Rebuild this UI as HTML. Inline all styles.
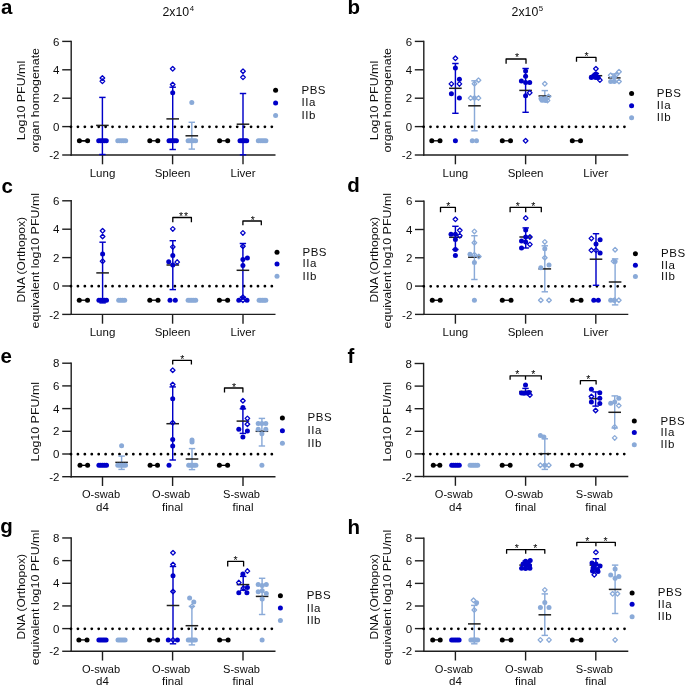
<!DOCTYPE html>
<html><head><meta charset="utf-8"><style>
html,body{margin:0;padding:0;background:#fff;}
svg{display:block;font-family:"Liberation Sans", sans-serif;will-change:transform;-webkit-font-smoothing:antialiased;}
text{fill:#0d0d0d;}
</style></head><body>
<svg width="685" height="686" viewBox="0 0 685 686">
<rect width="685" height="686" fill="#fff"/>
<text x="1.0" y="14.0" font-size="20.5" font-weight="bold" fill="#000" style="fill:#000">a</text>
<text x="347.4" y="13.9" font-size="20.5" font-weight="bold" fill="#000" style="fill:#000">b</text>
<text x="1.5" y="193" font-size="20.5" font-weight="bold" fill="#000" style="fill:#000">c</text>
<text x="347.2" y="192.1" font-size="20.5" font-weight="bold" fill="#000" style="fill:#000">d</text>
<text x="0.5" y="363" font-size="20.5" font-weight="bold" fill="#000" style="fill:#000">e</text>
<text x="347.4" y="362.8" font-size="20.5" font-weight="bold" fill="#000" style="fill:#000">f</text>
<text x="0.3" y="533.4" font-size="20.5" font-weight="bold" fill="#000" style="fill:#000">g</text>
<text x="347.4" y="534" font-size="20.5" font-weight="bold" fill="#000" style="fill:#000">h</text>
<text transform="translate(162.4,16) scale(1.0,1)" font-size="12.3" text-anchor="start" font-weight="normal">2x10<tspan dx="0.6" dy="-5.4" font-size="7.8">4</tspan></text>
<text transform="translate(511.6,16) scale(1.0,1)" font-size="12.3" text-anchor="start" font-weight="normal">2x10<tspan dx="0.6" dy="-5.4" font-size="7.8">5</tspan></text>
<line x1="71.2" y1="40.7" x2="71.2" y2="155.7" stroke="#1e1e1e" stroke-width="1.4"/>
<line x1="62.2" y1="41.4" x2="71.2" y2="41.4" stroke="#1e1e1e" stroke-width="1.4"/>
<text transform="translate(59.5,45.5) scale(1.0,1)" font-size="11.5" text-anchor="end" font-weight="normal">6</text>
<line x1="62.2" y1="69.8" x2="71.2" y2="69.8" stroke="#1e1e1e" stroke-width="1.4"/>
<text transform="translate(59.5,73.9) scale(1.0,1)" font-size="11.5" text-anchor="end" font-weight="normal">4</text>
<line x1="62.2" y1="98.2" x2="71.2" y2="98.2" stroke="#1e1e1e" stroke-width="1.4"/>
<text transform="translate(59.5,102.3) scale(1.0,1)" font-size="11.5" text-anchor="end" font-weight="normal">2</text>
<line x1="62.2" y1="126.6" x2="71.2" y2="126.6" stroke="#1e1e1e" stroke-width="1.4"/>
<text transform="translate(59.5,130.7) scale(1.0,1)" font-size="11.5" text-anchor="end" font-weight="normal">0</text>
<line x1="62.2" y1="155" x2="71.2" y2="155" stroke="#1e1e1e" stroke-width="1.4"/>
<text transform="translate(59.5,159.1) scale(1.0,1)" font-size="11.5" text-anchor="end" font-weight="normal">-2</text>
<line x1="70.5" y1="155" x2="275.5" y2="155" stroke="#1e1e1e" stroke-width="1.4"/>
<line x1="102.5" y1="155" x2="102.5" y2="164.3" stroke="#1e1e1e" stroke-width="1.4"/>
<text transform="translate(102.5,176.5) scale(1.0,1)" font-size="11.5" text-anchor="middle" font-weight="normal">Lung</text>
<line x1="172.6" y1="155" x2="172.6" y2="164.3" stroke="#1e1e1e" stroke-width="1.4"/>
<text transform="translate(172.6,176.5) scale(1.0,1)" font-size="11.5" text-anchor="middle" font-weight="normal">Spleen</text>
<line x1="243" y1="155" x2="243" y2="164.3" stroke="#1e1e1e" stroke-width="1.4"/>
<text transform="translate(243,176.5) scale(1.0,1)" font-size="11.5" text-anchor="middle" font-weight="normal">Liver</text>
<line x1="71" y1="126.8" x2="272.12" y2="126.8" stroke="#000" stroke-width="2.8" stroke-linecap="round" stroke-dasharray="0 6.925"/>
<text transform="translate(25.2,100.5) rotate(-90) scale(1.083,1)" font-size="11.5" text-anchor="middle">Log10 PFU/ml</text>
<text transform="translate(38.8,100.2) rotate(-90) scale(1.083,1)" font-size="11.5" text-anchor="middle">organ homogenate</text>
<line x1="79.4" y1="140.8" x2="87.6" y2="140.8" stroke="#1e1e1e" stroke-width="1.5"/>
<line x1="102.4" y1="97.4" x2="102.4" y2="154.5" stroke="#0000c8" stroke-width="1.45"/>
<line x1="99.2" y1="97.4" x2="105.6" y2="97.4" stroke="#0000c8" stroke-width="1.45"/>
<line x1="99.2" y1="154.5" x2="105.6" y2="154.5" stroke="#0000c8" stroke-width="1.45"/>
<line x1="96.1" y1="125.4" x2="108.7" y2="125.4" stroke="#1e1e1e" stroke-width="1.5"/>
<circle cx="98.7" cy="140.8" r="2.5" fill="#0000c8"/>
<circle cx="100.6" cy="140.8" r="2.5" fill="#0000c8"/>
<circle cx="102.5" cy="140.8" r="2.5" fill="#0000c8"/>
<circle cx="104.4" cy="140.8" r="2.5" fill="#0000c8"/>
<circle cx="106.3" cy="140.8" r="2.5" fill="#0000c8"/>
<path d="M102.4 75.7L104.7 78L102.4 80.3L100.1 78Z" fill="none" stroke="#0000c8" stroke-width="1.3" stroke-linejoin="round"/>
<path d="M102.4 79L104.7 81.3L102.4 83.6L100.1 81.3Z" fill="none" stroke="#0000c8" stroke-width="1.3" stroke-linejoin="round"/>
<circle cx="117.8" cy="140.8" r="2.5" fill="#8aaad8"/>
<circle cx="119.77" cy="140.8" r="2.5" fill="#8aaad8"/>
<circle cx="121.75" cy="140.8" r="2.5" fill="#8aaad8"/>
<circle cx="123.72" cy="140.8" r="2.5" fill="#8aaad8"/>
<circle cx="125.7" cy="140.8" r="2.5" fill="#8aaad8"/>
<line x1="79.4" y1="140.8" x2="87.6" y2="140.8" stroke="#000000" stroke-width="1.3"/>
<circle cx="79.4" cy="140.8" r="2.5" fill="#000000"/>
<circle cx="87.6" cy="140.8" r="2.5" fill="#000000"/>
<line x1="172.7" y1="87.2" x2="172.7" y2="149.5" stroke="#0000c8" stroke-width="1.45"/>
<line x1="169.5" y1="87.2" x2="175.9" y2="87.2" stroke="#0000c8" stroke-width="1.45"/>
<line x1="169.5" y1="149.5" x2="175.9" y2="149.5" stroke="#0000c8" stroke-width="1.45"/>
<line x1="166.4" y1="118.9" x2="179" y2="118.9" stroke="#1e1e1e" stroke-width="1.5"/>
<circle cx="169" cy="140.8" r="2.5" fill="#0000c8"/>
<circle cx="170.85" cy="140.8" r="2.5" fill="#0000c8"/>
<circle cx="172.7" cy="140.8" r="2.5" fill="#0000c8"/>
<circle cx="174.55" cy="140.8" r="2.5" fill="#0000c8"/>
<circle cx="176.4" cy="140.8" r="2.5" fill="#0000c8"/>
<path d="M172.7 66.5L175 68.8L172.7 71.1L170.4 68.8Z" fill="none" stroke="#0000c8" stroke-width="1.3" stroke-linejoin="round"/>
<path d="M172.7 82.2L175 84.5L172.7 86.8L170.4 84.5Z" fill="none" stroke="#0000c8" stroke-width="1.3" stroke-linejoin="round"/>
<circle cx="172.7" cy="92.7" r="2.5" fill="#0000c8"/>
<line x1="191.8" y1="122.3" x2="191.8" y2="149.1" stroke="#8aaad8" stroke-width="1.45"/>
<line x1="188.6" y1="122.3" x2="195" y2="122.3" stroke="#8aaad8" stroke-width="1.45"/>
<line x1="188.6" y1="149.1" x2="195" y2="149.1" stroke="#8aaad8" stroke-width="1.45"/>
<line x1="185.5" y1="135.8" x2="198.1" y2="135.8" stroke="#1e1e1e" stroke-width="1.5"/>
<circle cx="188.1" cy="140.8" r="2.5" fill="#8aaad8"/>
<circle cx="189.97" cy="140.8" r="2.5" fill="#8aaad8"/>
<circle cx="191.85" cy="140.8" r="2.5" fill="#8aaad8"/>
<circle cx="193.72" cy="140.8" r="2.5" fill="#8aaad8"/>
<circle cx="195.6" cy="140.8" r="2.5" fill="#8aaad8"/>
<circle cx="191.8" cy="102.5" r="2.5" fill="#8aaad8"/>
<line x1="149.8" y1="140.8" x2="157.8" y2="140.8" stroke="#000000" stroke-width="1.3"/>
<circle cx="149.8" cy="140.8" r="2.5" fill="#000000"/>
<circle cx="157.8" cy="140.8" r="2.5" fill="#000000"/>
<line x1="243" y1="93.5" x2="243" y2="154.8" stroke="#0000c8" stroke-width="1.45"/>
<line x1="239.8" y1="93.5" x2="246.2" y2="93.5" stroke="#0000c8" stroke-width="1.45"/>
<line x1="239.8" y1="154.8" x2="246.2" y2="154.8" stroke="#0000c8" stroke-width="1.45"/>
<line x1="236.7" y1="124.2" x2="249.3" y2="124.2" stroke="#1e1e1e" stroke-width="1.5"/>
<circle cx="240" cy="140.8" r="2.5" fill="#0000c8"/>
<circle cx="241.68" cy="140.8" r="2.5" fill="#0000c8"/>
<circle cx="243.35" cy="140.8" r="2.5" fill="#0000c8"/>
<circle cx="245.02" cy="140.8" r="2.5" fill="#0000c8"/>
<circle cx="246.7" cy="140.8" r="2.5" fill="#0000c8"/>
<path d="M243 68.9L245.3 71.2L243 73.5L240.7 71.2Z" fill="none" stroke="#0000c8" stroke-width="1.3" stroke-linejoin="round"/>
<path d="M243 75L245.3 77.3L243 79.6L240.7 77.3Z" fill="none" stroke="#0000c8" stroke-width="1.3" stroke-linejoin="round"/>
<circle cx="258.3" cy="140.8" r="2.5" fill="#8aaad8"/>
<circle cx="260.2" cy="140.8" r="2.5" fill="#8aaad8"/>
<circle cx="262.1" cy="140.8" r="2.5" fill="#8aaad8"/>
<circle cx="264" cy="140.8" r="2.5" fill="#8aaad8"/>
<circle cx="265.9" cy="140.8" r="2.5" fill="#8aaad8"/>
<line x1="219.6" y1="140.8" x2="227.7" y2="140.8" stroke="#000000" stroke-width="1.3"/>
<circle cx="219.6" cy="140.8" r="2.5" fill="#000000"/>
<circle cx="227.7" cy="140.8" r="2.5" fill="#000000"/>
<circle cx="275.6" cy="90.2" r="2.5" fill="#000000"/>
<text transform="translate(301.5,93.6) scale(1.0,1)" font-size="11.5" text-anchor="start" font-weight="normal" letter-spacing="0.5">PBS</text>
<circle cx="275.6" cy="103" r="2.5" fill="#0000c8"/>
<text transform="translate(301.5,106.4) scale(1.0,1)" font-size="11.5" text-anchor="start" font-weight="normal" letter-spacing="0.5">IIa</text>
<circle cx="275.6" cy="115.6" r="2.5" fill="#8aaad8"/>
<text transform="translate(301.5,119) scale(1.0,1)" font-size="11.5" text-anchor="start" font-weight="normal" letter-spacing="0.5">IIb</text>
<line x1="423.8" y1="40.7" x2="423.8" y2="155.7" stroke="#1e1e1e" stroke-width="1.4"/>
<line x1="414.8" y1="41.4" x2="423.8" y2="41.4" stroke="#1e1e1e" stroke-width="1.4"/>
<text transform="translate(412.1,45.5) scale(1.0,1)" font-size="11.5" text-anchor="end" font-weight="normal">6</text>
<line x1="414.8" y1="69.8" x2="423.8" y2="69.8" stroke="#1e1e1e" stroke-width="1.4"/>
<text transform="translate(412.1,73.9) scale(1.0,1)" font-size="11.5" text-anchor="end" font-weight="normal">4</text>
<line x1="414.8" y1="98.2" x2="423.8" y2="98.2" stroke="#1e1e1e" stroke-width="1.4"/>
<text transform="translate(412.1,102.3) scale(1.0,1)" font-size="11.5" text-anchor="end" font-weight="normal">2</text>
<line x1="414.8" y1="126.6" x2="423.8" y2="126.6" stroke="#1e1e1e" stroke-width="1.4"/>
<text transform="translate(412.1,130.7) scale(1.0,1)" font-size="11.5" text-anchor="end" font-weight="normal">0</text>
<line x1="414.8" y1="155" x2="423.8" y2="155" stroke="#1e1e1e" stroke-width="1.4"/>
<text transform="translate(412.1,159.1) scale(1.0,1)" font-size="11.5" text-anchor="end" font-weight="normal">-2</text>
<line x1="423.1" y1="155" x2="628.3" y2="155" stroke="#1e1e1e" stroke-width="1.4"/>
<line x1="455.4" y1="155" x2="455.4" y2="164.3" stroke="#1e1e1e" stroke-width="1.4"/>
<text transform="translate(455.4,176.5) scale(1.0,1)" font-size="11.5" text-anchor="middle" font-weight="normal">Lung</text>
<line x1="525.6" y1="155" x2="525.6" y2="164.3" stroke="#1e1e1e" stroke-width="1.4"/>
<text transform="translate(525.6,176.5) scale(1.0,1)" font-size="11.5" text-anchor="middle" font-weight="normal">Spleen</text>
<line x1="595.8" y1="155" x2="595.8" y2="164.3" stroke="#1e1e1e" stroke-width="1.4"/>
<text transform="translate(595.8,176.5) scale(1.0,1)" font-size="11.5" text-anchor="middle" font-weight="normal">Liver</text>
<line x1="423.6" y1="126.8" x2="624.72" y2="126.8" stroke="#000" stroke-width="2.8" stroke-linecap="round" stroke-dasharray="0 6.925"/>
<text transform="translate(377.5,100.5) rotate(-90) scale(1.083,1)" font-size="11.5" text-anchor="middle">Log10 PFU/ml</text>
<text transform="translate(391.1,100.2) rotate(-90) scale(1.083,1)" font-size="11.5" text-anchor="middle">organ homogenate</text>
<line x1="455.4" y1="63.5" x2="455.4" y2="113.3" stroke="#0000c8" stroke-width="1.45"/>
<line x1="452.2" y1="63.5" x2="458.6" y2="63.5" stroke="#0000c8" stroke-width="1.45"/>
<line x1="452.2" y1="113.3" x2="458.6" y2="113.3" stroke="#0000c8" stroke-width="1.45"/>
<line x1="449.1" y1="88.3" x2="461.7" y2="88.3" stroke="#1e1e1e" stroke-width="1.5"/>
<circle cx="455.4" cy="68.1" r="2.5" fill="#0000c8"/>
<circle cx="459.4" cy="79.3" r="2.5" fill="#0000c8"/>
<circle cx="451.4" cy="93.7" r="2.5" fill="#0000c8"/>
<circle cx="459.4" cy="98.1" r="2.5" fill="#0000c8"/>
<circle cx="455.4" cy="140.8" r="2.5" fill="#0000c8"/>
<path d="M455.4 56L457.7 58.3L455.4 60.6L453.1 58.3Z" fill="none" stroke="#0000c8" stroke-width="1.3" stroke-linejoin="round"/>
<path d="M451.4 81.6L453.7 83.9L451.4 86.2L449.1 83.9Z" fill="none" stroke="#0000c8" stroke-width="1.3" stroke-linejoin="round"/>
<path d="M459.4 81.6L461.7 83.9L459.4 86.2L457.1 83.9Z" fill="none" stroke="#0000c8" stroke-width="1.3" stroke-linejoin="round"/>
<line x1="474.5" y1="80.8" x2="474.5" y2="130.8" stroke="#8aaad8" stroke-width="1.45"/>
<line x1="471.3" y1="80.8" x2="477.7" y2="80.8" stroke="#8aaad8" stroke-width="1.45"/>
<line x1="471.3" y1="130.8" x2="477.7" y2="130.8" stroke="#8aaad8" stroke-width="1.45"/>
<line x1="468.2" y1="105.8" x2="480.8" y2="105.8" stroke="#1e1e1e" stroke-width="1.5"/>
<circle cx="474.5" cy="98.1" r="2.5" fill="#8aaad8"/>
<circle cx="472.3" cy="140.8" r="2.5" fill="#8aaad8"/>
<circle cx="476.5" cy="140.8" r="2.5" fill="#8aaad8"/>
<path d="M478.5 77.9L480.8 80.2L478.5 82.5L476.2 80.2Z" fill="none" stroke="#8aaad8" stroke-width="1.3" stroke-linejoin="round"/>
<path d="M474.5 81.4L476.8 83.7L474.5 86L472.2 83.7Z" fill="none" stroke="#8aaad8" stroke-width="1.3" stroke-linejoin="round"/>
<path d="M470.6 95.8L472.9 98.1L470.6 100.4L468.3 98.1Z" fill="none" stroke="#8aaad8" stroke-width="1.3" stroke-linejoin="round"/>
<path d="M478.5 95.8L480.8 98.1L478.5 100.4L476.2 98.1Z" fill="none" stroke="#8aaad8" stroke-width="1.3" stroke-linejoin="round"/>
<line x1="431.8" y1="140.8" x2="440" y2="140.8" stroke="#000000" stroke-width="1.3"/>
<circle cx="431.8" cy="140.8" r="2.5" fill="#000000"/>
<circle cx="440" cy="140.8" r="2.5" fill="#000000"/>
<line x1="525.6" y1="68.5" x2="525.6" y2="112.3" stroke="#0000c8" stroke-width="1.45"/>
<line x1="522.4" y1="68.5" x2="528.8" y2="68.5" stroke="#0000c8" stroke-width="1.45"/>
<line x1="522.4" y1="112.3" x2="528.8" y2="112.3" stroke="#0000c8" stroke-width="1.45"/>
<line x1="519.3" y1="90.4" x2="531.9" y2="90.4" stroke="#1e1e1e" stroke-width="1.5"/>
<circle cx="525.6" cy="70.9" r="2.5" fill="#0000c8"/>
<circle cx="525.6" cy="76.2" r="2.5" fill="#0000c8"/>
<circle cx="521.4" cy="81" r="2.5" fill="#0000c8"/>
<circle cx="525.6" cy="82.6" r="2.5" fill="#0000c8"/>
<circle cx="529.7" cy="82.6" r="2.5" fill="#0000c8"/>
<circle cx="525.6" cy="95.8" r="2.5" fill="#0000c8"/>
<path d="M529.7 90.5L532 92.8L529.7 95.1L527.4 92.8Z" fill="none" stroke="#0000c8" stroke-width="1.3" stroke-linejoin="round"/>
<path d="M525.6 138.5L527.9 140.8L525.6 143.1L523.3 140.8Z" fill="none" stroke="#0000c8" stroke-width="1.3" stroke-linejoin="round"/>
<line x1="544.8" y1="90.6" x2="544.8" y2="101.5" stroke="#8aaad8" stroke-width="1.45"/>
<line x1="541.6" y1="90.6" x2="548" y2="90.6" stroke="#8aaad8" stroke-width="1.45"/>
<line x1="541.6" y1="101.5" x2="548" y2="101.5" stroke="#8aaad8" stroke-width="1.45"/>
<line x1="538.5" y1="96" x2="551.1" y2="96" stroke="#1e1e1e" stroke-width="1.5"/>
<circle cx="541" cy="98.5" r="2.5" fill="#8aaad8"/>
<circle cx="544.8" cy="98.8" r="2.5" fill="#8aaad8"/>
<circle cx="542" cy="100.3" r="2.5" fill="#8aaad8"/>
<circle cx="545.5" cy="100.5" r="2.5" fill="#8aaad8"/>
<path d="M544.8 81.5L547.1 83.8L544.8 86.1L542.5 83.8Z" fill="none" stroke="#8aaad8" stroke-width="1.3" stroke-linejoin="round"/>
<path d="M548.5 94.2L550.8 96.5L548.5 98.8L546.2 96.5Z" fill="none" stroke="#8aaad8" stroke-width="1.3" stroke-linejoin="round"/>
<path d="M547.5 98.2L549.8 100.5L547.5 102.8L545.2 100.5Z" fill="none" stroke="#8aaad8" stroke-width="1.3" stroke-linejoin="round"/>
<line x1="502.3" y1="140.8" x2="510.5" y2="140.8" stroke="#000000" stroke-width="1.3"/>
<circle cx="502.3" cy="140.8" r="2.5" fill="#000000"/>
<circle cx="510.5" cy="140.8" r="2.5" fill="#000000"/>
<path d="M506.1 63.7V59H526V63.7" fill="none" stroke="#000" stroke-width="1.3" stroke-linejoin="round"/>
<text x="517" y="61.3" font-size="10.5" text-anchor="middle" style="fill:#000">*</text>
<line x1="595.9" y1="73.5" x2="595.9" y2="78.5" stroke="#0000c8" stroke-width="1.45"/>
<line x1="592.7" y1="73.5" x2="599.1" y2="73.5" stroke="#0000c8" stroke-width="1.45"/>
<line x1="592.7" y1="78.5" x2="599.1" y2="78.5" stroke="#0000c8" stroke-width="1.45"/>
<line x1="589.6" y1="75.7" x2="602.2" y2="75.7" stroke="#1e1e1e" stroke-width="1.5"/>
<circle cx="595.9" cy="73.9" r="2.5" fill="#0000c8"/>
<circle cx="591.3" cy="77.5" r="2.5" fill="#0000c8"/>
<circle cx="595.9" cy="77.5" r="2.5" fill="#0000c8"/>
<circle cx="598.2" cy="77.5" r="2.5" fill="#0000c8"/>
<circle cx="593.5" cy="76" r="2.5" fill="#0000c8"/>
<path d="M595.9 66.5L598.2 68.8L595.9 71.1L593.6 68.8Z" fill="none" stroke="#0000c8" stroke-width="1.3" stroke-linejoin="round"/>
<path d="M599.9 77.8L602.2 80.1L599.9 82.4L597.6 80.1Z" fill="none" stroke="#0000c8" stroke-width="1.3" stroke-linejoin="round"/>
<line x1="614.3" y1="74" x2="614.3" y2="81.8" stroke="#8aaad8" stroke-width="1.45"/>
<line x1="611.1" y1="74" x2="617.5" y2="74" stroke="#8aaad8" stroke-width="1.45"/>
<line x1="611.1" y1="81.8" x2="617.5" y2="81.8" stroke="#8aaad8" stroke-width="1.45"/>
<line x1="608" y1="77.9" x2="620.6" y2="77.9" stroke="#1e1e1e" stroke-width="1.5"/>
<circle cx="610.7" cy="81.5" r="2.5" fill="#8aaad8"/>
<circle cx="614.3" cy="81.5" r="2.5" fill="#8aaad8"/>
<circle cx="614.3" cy="77.5" r="2.5" fill="#8aaad8"/>
<path d="M619 69.4L621.3 71.7L619 74L616.7 71.7Z" fill="none" stroke="#8aaad8" stroke-width="1.3" stroke-linejoin="round"/>
<path d="M610.7 73L613 75.3L610.7 77.6L608.4 75.3Z" fill="none" stroke="#8aaad8" stroke-width="1.3" stroke-linejoin="round"/>
<path d="M619 79.2L621.3 81.5L619 83.8L616.7 81.5Z" fill="none" stroke="#8aaad8" stroke-width="1.3" stroke-linejoin="round"/>
<path d="M616.5 72.2L618.8 74.5L616.5 76.8L614.2 74.5Z" fill="none" stroke="#8aaad8" stroke-width="1.3" stroke-linejoin="round"/>
<line x1="572.3" y1="140.8" x2="580.5" y2="140.8" stroke="#000000" stroke-width="1.3"/>
<circle cx="572.3" cy="140.8" r="2.5" fill="#000000"/>
<circle cx="580.5" cy="140.8" r="2.5" fill="#000000"/>
<path d="M576.5 61.8V57.4H596V61.8" fill="none" stroke="#000" stroke-width="1.3" stroke-linejoin="round"/>
<text x="586.5" y="59.8" font-size="10.5" text-anchor="middle" style="fill:#000">*</text>
<circle cx="631.6" cy="93.6" r="2.5" fill="#000000"/>
<text transform="translate(656.8,97) scale(1.0,1)" font-size="11.5" text-anchor="start" font-weight="normal" letter-spacing="0.5">PBS</text>
<circle cx="631.6" cy="105.7" r="2.5" fill="#0000c8"/>
<text transform="translate(656.8,109.1) scale(1.0,1)" font-size="11.5" text-anchor="start" font-weight="normal" letter-spacing="0.5">IIa</text>
<circle cx="631.6" cy="117.7" r="2.5" fill="#8aaad8"/>
<text transform="translate(656.8,121.1) scale(1.0,1)" font-size="11.5" text-anchor="start" font-weight="normal" letter-spacing="0.5">IIb</text>
<line x1="71.2" y1="200.1" x2="71.2" y2="315.1" stroke="#1e1e1e" stroke-width="1.4"/>
<line x1="62.2" y1="200.8" x2="71.2" y2="200.8" stroke="#1e1e1e" stroke-width="1.4"/>
<text transform="translate(59.5,204.9) scale(1.0,1)" font-size="11.5" text-anchor="end" font-weight="normal">6</text>
<line x1="62.2" y1="229.2" x2="71.2" y2="229.2" stroke="#1e1e1e" stroke-width="1.4"/>
<text transform="translate(59.5,233.3) scale(1.0,1)" font-size="11.5" text-anchor="end" font-weight="normal">4</text>
<line x1="62.2" y1="257.6" x2="71.2" y2="257.6" stroke="#1e1e1e" stroke-width="1.4"/>
<text transform="translate(59.5,261.7) scale(1.0,1)" font-size="11.5" text-anchor="end" font-weight="normal">2</text>
<line x1="62.2" y1="286" x2="71.2" y2="286" stroke="#1e1e1e" stroke-width="1.4"/>
<text transform="translate(59.5,290.1) scale(1.0,1)" font-size="11.5" text-anchor="end" font-weight="normal">0</text>
<line x1="62.2" y1="314.4" x2="71.2" y2="314.4" stroke="#1e1e1e" stroke-width="1.4"/>
<text transform="translate(59.5,318.5) scale(1.0,1)" font-size="11.5" text-anchor="end" font-weight="normal">-2</text>
<line x1="70.5" y1="314.4" x2="275.5" y2="314.4" stroke="#1e1e1e" stroke-width="1.4"/>
<line x1="102.5" y1="314.4" x2="102.5" y2="323.7" stroke="#1e1e1e" stroke-width="1.4"/>
<text transform="translate(102.5,336.3) scale(1.0,1)" font-size="11.5" text-anchor="middle" font-weight="normal">Lung</text>
<line x1="172.6" y1="314.4" x2="172.6" y2="323.7" stroke="#1e1e1e" stroke-width="1.4"/>
<text transform="translate(172.6,336.3) scale(1.0,1)" font-size="11.5" text-anchor="middle" font-weight="normal">Spleen</text>
<line x1="243" y1="314.4" x2="243" y2="323.7" stroke="#1e1e1e" stroke-width="1.4"/>
<text transform="translate(243,336.3) scale(1.0,1)" font-size="11.5" text-anchor="middle" font-weight="normal">Liver</text>
<line x1="71" y1="286.2" x2="272.12" y2="286.2" stroke="#000" stroke-width="2.8" stroke-linecap="round" stroke-dasharray="0 6.925"/>
<text transform="translate(25.2,259.7) rotate(-90) scale(1.045,1)" font-size="11.5" text-anchor="middle">DNA (Orthopox)</text>
<text transform="translate(38.8,260.7) rotate(-90) scale(1.083,1)" font-size="11.5" text-anchor="middle">equivalent log10 PFU/ml</text>
<line x1="102.6" y1="242.2" x2="102.6" y2="302.9" stroke="#0000c8" stroke-width="1.45"/>
<line x1="99.4" y1="242.2" x2="105.8" y2="242.2" stroke="#0000c8" stroke-width="1.45"/>
<line x1="99.4" y1="302.9" x2="105.8" y2="302.9" stroke="#0000c8" stroke-width="1.45"/>
<line x1="96.3" y1="272.9" x2="108.9" y2="272.9" stroke="#1e1e1e" stroke-width="1.5"/>
<circle cx="98.9" cy="300.2" r="2.5" fill="#0000c8"/>
<circle cx="100.8" cy="300.2" r="2.5" fill="#0000c8"/>
<circle cx="102.7" cy="300.2" r="2.5" fill="#0000c8"/>
<circle cx="104.6" cy="300.2" r="2.5" fill="#0000c8"/>
<circle cx="106.5" cy="300.2" r="2.5" fill="#0000c8"/>
<circle cx="102.6" cy="254.1" r="2.5" fill="#0000c8"/>
<path d="M102.6 228.5L104.9 230.8L102.6 233.1L100.3 230.8Z" fill="none" stroke="#0000c8" stroke-width="1.3" stroke-linejoin="round"/>
<path d="M102.6 234.2L104.9 236.5L102.6 238.8L100.3 236.5Z" fill="none" stroke="#0000c8" stroke-width="1.3" stroke-linejoin="round"/>
<path d="M102.6 258.9L104.9 261.2L102.6 263.5L100.3 261.2Z" fill="none" stroke="#0000c8" stroke-width="1.3" stroke-linejoin="round"/>
<circle cx="118.7" cy="300.2" r="2.5" fill="#8aaad8"/>
<circle cx="120.7" cy="300.2" r="2.5" fill="#8aaad8"/>
<circle cx="122.7" cy="300.2" r="2.5" fill="#8aaad8"/>
<circle cx="124.7" cy="300.2" r="2.5" fill="#8aaad8"/>
<line x1="79.3" y1="300.2" x2="87.5" y2="300.2" stroke="#000000" stroke-width="1.3"/>
<circle cx="79.3" cy="300.2" r="2.5" fill="#000000"/>
<circle cx="87.5" cy="300.2" r="2.5" fill="#000000"/>
<line x1="172.8" y1="240.7" x2="172.8" y2="289.6" stroke="#0000c8" stroke-width="1.45"/>
<line x1="169.6" y1="240.7" x2="176" y2="240.7" stroke="#0000c8" stroke-width="1.45"/>
<line x1="169.6" y1="289.6" x2="176" y2="289.6" stroke="#0000c8" stroke-width="1.45"/>
<line x1="166.5" y1="265" x2="179.1" y2="265" stroke="#1e1e1e" stroke-width="1.5"/>
<circle cx="172.8" cy="255.5" r="2.5" fill="#0000c8"/>
<circle cx="168.7" cy="261.7" r="2.5" fill="#0000c8"/>
<circle cx="172.8" cy="265" r="2.5" fill="#0000c8"/>
<circle cx="170" cy="300.2" r="2.5" fill="#0000c8"/>
<circle cx="175.3" cy="300.2" r="2.5" fill="#0000c8"/>
<path d="M172.8 226.6L175.1 228.9L172.8 231.2L170.5 228.9Z" fill="none" stroke="#0000c8" stroke-width="1.3" stroke-linejoin="round"/>
<path d="M172.8 244.6L175.1 246.9L172.8 249.2L170.5 246.9Z" fill="none" stroke="#0000c8" stroke-width="1.3" stroke-linejoin="round"/>
<path d="M177.2 259.8L179.5 262.1L177.2 264.4L174.9 262.1Z" fill="none" stroke="#0000c8" stroke-width="1.3" stroke-linejoin="round"/>
<circle cx="188.1" cy="300.2" r="2.5" fill="#8aaad8"/>
<circle cx="190" cy="300.2" r="2.5" fill="#8aaad8"/>
<circle cx="191.9" cy="300.2" r="2.5" fill="#8aaad8"/>
<circle cx="193.8" cy="300.2" r="2.5" fill="#8aaad8"/>
<circle cx="195.7" cy="300.2" r="2.5" fill="#8aaad8"/>
<line x1="149.8" y1="300.2" x2="158" y2="300.2" stroke="#000000" stroke-width="1.3"/>
<circle cx="149.8" cy="300.2" r="2.5" fill="#000000"/>
<circle cx="158" cy="300.2" r="2.5" fill="#000000"/>
<path d="M172.8 222.3V217.5H191.4V222.3" fill="none" stroke="#000" stroke-width="1.3" stroke-linejoin="round"/>
<text x="183.9" y="220.4" font-size="10.5" text-anchor="middle" letter-spacing="0.8" style="fill:#000">**</text>
<line x1="242.9" y1="243.5" x2="242.9" y2="297.3" stroke="#0000c8" stroke-width="1.45"/>
<line x1="239.7" y1="243.5" x2="246.1" y2="243.5" stroke="#0000c8" stroke-width="1.45"/>
<line x1="239.7" y1="297.3" x2="246.1" y2="297.3" stroke="#0000c8" stroke-width="1.45"/>
<line x1="236.6" y1="270.3" x2="249.2" y2="270.3" stroke="#1e1e1e" stroke-width="1.5"/>
<circle cx="242.9" cy="259.5" r="2.5" fill="#0000c8"/>
<circle cx="247.4" cy="257.9" r="2.5" fill="#0000c8"/>
<circle cx="242.9" cy="265.6" r="2.5" fill="#0000c8"/>
<circle cx="238.8" cy="300.2" r="2.5" fill="#0000c8"/>
<circle cx="247" cy="300.2" r="2.5" fill="#0000c8"/>
<path d="M242.9 230.6L245.2 232.9L242.9 235.2L240.6 232.9Z" fill="none" stroke="#0000c8" stroke-width="1.3" stroke-linejoin="round"/>
<path d="M242.9 243.9L245.2 246.2L242.9 248.5L240.6 246.2Z" fill="none" stroke="#0000c8" stroke-width="1.3" stroke-linejoin="round"/>
<path d="M242.9 297.9L245.2 300.2L242.9 302.5L240.6 300.2Z" fill="none" stroke="#0000c8" stroke-width="1.3" stroke-linejoin="round"/>
<path d="M242.9 295L245.2 297.3L242.9 299.6L240.6 297.3Z" fill="none" stroke="#0000c8" stroke-width="1.3" stroke-linejoin="round"/>
<circle cx="259.1" cy="300.2" r="2.5" fill="#8aaad8"/>
<circle cx="260.78" cy="300.2" r="2.5" fill="#8aaad8"/>
<circle cx="262.45" cy="300.2" r="2.5" fill="#8aaad8"/>
<circle cx="264.12" cy="300.2" r="2.5" fill="#8aaad8"/>
<circle cx="265.8" cy="300.2" r="2.5" fill="#8aaad8"/>
<line x1="219.4" y1="300.2" x2="227.6" y2="300.2" stroke="#000000" stroke-width="1.3"/>
<circle cx="219.4" cy="300.2" r="2.5" fill="#000000"/>
<circle cx="227.6" cy="300.2" r="2.5" fill="#000000"/>
<path d="M242.9 225.2V221H261.3V225.2" fill="none" stroke="#000" stroke-width="1.3" stroke-linejoin="round"/>
<text x="252.7" y="224" font-size="10.5" text-anchor="middle" style="fill:#000">*</text>
<circle cx="277" cy="252.3" r="2.5" fill="#000000"/>
<text transform="translate(302.5,255.7) scale(1.0,1)" font-size="11.5" text-anchor="start" font-weight="normal" letter-spacing="0.5">PBS</text>
<circle cx="277" cy="264" r="2.5" fill="#0000c8"/>
<text transform="translate(302.5,267.4) scale(1.0,1)" font-size="11.5" text-anchor="start" font-weight="normal" letter-spacing="0.5">IIa</text>
<circle cx="277" cy="276.2" r="2.5" fill="#8aaad8"/>
<text transform="translate(302.5,279.6) scale(1.0,1)" font-size="11.5" text-anchor="start" font-weight="normal" letter-spacing="0.5">IIb</text>
<line x1="424" y1="200.5" x2="424" y2="315.1" stroke="#1e1e1e" stroke-width="1.4"/>
<line x1="415" y1="201.2" x2="424" y2="201.2" stroke="#1e1e1e" stroke-width="1.4"/>
<text transform="translate(412.3,205.3) scale(1.0,1)" font-size="11.5" text-anchor="end" font-weight="normal">6</text>
<line x1="415" y1="229.5" x2="424" y2="229.5" stroke="#1e1e1e" stroke-width="1.4"/>
<text transform="translate(412.3,233.6) scale(1.0,1)" font-size="11.5" text-anchor="end" font-weight="normal">4</text>
<line x1="415" y1="257.8" x2="424" y2="257.8" stroke="#1e1e1e" stroke-width="1.4"/>
<text transform="translate(412.3,261.9) scale(1.0,1)" font-size="11.5" text-anchor="end" font-weight="normal">2</text>
<line x1="415" y1="286.1" x2="424" y2="286.1" stroke="#1e1e1e" stroke-width="1.4"/>
<text transform="translate(412.3,290.2) scale(1.0,1)" font-size="11.5" text-anchor="end" font-weight="normal">0</text>
<line x1="415" y1="314.4" x2="424" y2="314.4" stroke="#1e1e1e" stroke-width="1.4"/>
<text transform="translate(412.3,318.5) scale(1.0,1)" font-size="11.5" text-anchor="end" font-weight="normal">-2</text>
<line x1="423.3" y1="314.4" x2="628.3" y2="314.4" stroke="#1e1e1e" stroke-width="1.4"/>
<line x1="455.4" y1="314.4" x2="455.4" y2="323.7" stroke="#1e1e1e" stroke-width="1.4"/>
<text transform="translate(455.4,336.3) scale(1.0,1)" font-size="11.5" text-anchor="middle" font-weight="normal">Lung</text>
<line x1="525.6" y1="314.4" x2="525.6" y2="323.7" stroke="#1e1e1e" stroke-width="1.4"/>
<text transform="translate(525.6,336.3) scale(1.0,1)" font-size="11.5" text-anchor="middle" font-weight="normal">Spleen</text>
<line x1="595.8" y1="314.4" x2="595.8" y2="323.7" stroke="#1e1e1e" stroke-width="1.4"/>
<text transform="translate(595.8,336.3) scale(1.0,1)" font-size="11.5" text-anchor="middle" font-weight="normal">Liver</text>
<line x1="423.8" y1="286.3" x2="624.92" y2="286.3" stroke="#000" stroke-width="2.8" stroke-linecap="round" stroke-dasharray="0 6.925"/>
<text transform="translate(377.7,259.7) rotate(-90) scale(1.045,1)" font-size="11.5" text-anchor="middle">DNA (Orthopox)</text>
<text transform="translate(391.3,260.7) rotate(-90) scale(1.083,1)" font-size="11.5" text-anchor="middle">equivalent log10 PFU/ml</text>
<line x1="455.4" y1="226.3" x2="455.4" y2="249.5" stroke="#0000c8" stroke-width="1.45"/>
<line x1="452.2" y1="226.3" x2="458.6" y2="226.3" stroke="#0000c8" stroke-width="1.45"/>
<line x1="452.2" y1="249.5" x2="458.6" y2="249.5" stroke="#0000c8" stroke-width="1.45"/>
<line x1="449.1" y1="237.3" x2="461.7" y2="237.3" stroke="#1e1e1e" stroke-width="1.5"/>
<circle cx="451" cy="234.2" r="2.5" fill="#0000c8"/>
<circle cx="455.4" cy="234.2" r="2.5" fill="#0000c8"/>
<circle cx="455.4" cy="239.5" r="2.5" fill="#0000c8"/>
<circle cx="455.4" cy="249.5" r="2.5" fill="#0000c8"/>
<circle cx="455.4" cy="255.4" r="2.5" fill="#0000c8"/>
<path d="M455.4 217L457.7 219.3L455.4 221.6L453.1 219.3Z" fill="none" stroke="#0000c8" stroke-width="1.3" stroke-linejoin="round"/>
<path d="M459.8 228L462.1 230.3L459.8 232.6L457.5 230.3Z" fill="none" stroke="#0000c8" stroke-width="1.3" stroke-linejoin="round"/>
<path d="M459.8 233.4L462.1 235.7L459.8 238L457.5 235.7Z" fill="none" stroke="#0000c8" stroke-width="1.3" stroke-linejoin="round"/>
<line x1="474.4" y1="235.7" x2="474.4" y2="279.5" stroke="#8aaad8" stroke-width="1.45"/>
<line x1="471.2" y1="235.7" x2="477.6" y2="235.7" stroke="#8aaad8" stroke-width="1.45"/>
<line x1="471.2" y1="279.5" x2="477.6" y2="279.5" stroke="#8aaad8" stroke-width="1.45"/>
<line x1="468.1" y1="257.2" x2="480.7" y2="257.2" stroke="#1e1e1e" stroke-width="1.5"/>
<circle cx="470" cy="254.3" r="2.5" fill="#8aaad8"/>
<circle cx="474.4" cy="262.4" r="2.5" fill="#8aaad8"/>
<circle cx="474.4" cy="300.25" r="2.5" fill="#8aaad8"/>
<path d="M474.4 229.1L476.7 231.4L474.4 233.7L472.1 231.4Z" fill="none" stroke="#8aaad8" stroke-width="1.3" stroke-linejoin="round"/>
<path d="M474.4 240.4L476.7 242.7L474.4 245L472.1 242.7Z" fill="none" stroke="#8aaad8" stroke-width="1.3" stroke-linejoin="round"/>
<path d="M478.8 254.2L481.1 256.5L478.8 258.8L476.5 256.5Z" fill="none" stroke="#8aaad8" stroke-width="1.3" stroke-linejoin="round"/>
<path d="M474.4 252.5L476.7 254.8L474.4 257.1L472.1 254.8Z" fill="none" stroke="#8aaad8" stroke-width="1.3" stroke-linejoin="round"/>
<line x1="432.3" y1="300.25" x2="440.2" y2="300.25" stroke="#000000" stroke-width="1.3"/>
<circle cx="432.3" cy="300.25" r="2.5" fill="#000000"/>
<circle cx="440.2" cy="300.25" r="2.5" fill="#000000"/>
<path d="M440.5 212.3V207.3H455.4V212.3" fill="none" stroke="#000" stroke-width="1.3" stroke-linejoin="round"/>
<text x="448.2" y="210.1" font-size="10.5" text-anchor="middle" style="fill:#000">*</text>
<line x1="525.7" y1="227.9" x2="525.7" y2="248" stroke="#0000c8" stroke-width="1.45"/>
<line x1="522.5" y1="227.9" x2="528.9" y2="227.9" stroke="#0000c8" stroke-width="1.45"/>
<line x1="522.5" y1="248" x2="528.9" y2="248" stroke="#0000c8" stroke-width="1.45"/>
<line x1="519.4" y1="237" x2="532" y2="237" stroke="#1e1e1e" stroke-width="1.5"/>
<circle cx="525.7" cy="230" r="2.5" fill="#0000c8"/>
<circle cx="525.7" cy="237" r="2.5" fill="#0000c8"/>
<circle cx="521.5" cy="240.9" r="2.5" fill="#0000c8"/>
<circle cx="525.7" cy="241.9" r="2.5" fill="#0000c8"/>
<circle cx="521.5" cy="248" r="2.5" fill="#0000c8"/>
<path d="M525.7 215.8L528 218.1L525.7 220.4L523.4 218.1Z" fill="none" stroke="#0000c8" stroke-width="1.3" stroke-linejoin="round"/>
<path d="M529.9 234.7L532.2 237L529.9 239.3L527.6 237Z" fill="none" stroke="#0000c8" stroke-width="1.3" stroke-linejoin="round"/>
<path d="M529.9 242.1L532.2 244.4L529.9 246.7L527.6 244.4Z" fill="none" stroke="#0000c8" stroke-width="1.3" stroke-linejoin="round"/>
<line x1="544.8" y1="245.8" x2="544.8" y2="291.8" stroke="#8aaad8" stroke-width="1.45"/>
<line x1="541.6" y1="245.8" x2="548" y2="245.8" stroke="#8aaad8" stroke-width="1.45"/>
<line x1="541.6" y1="291.8" x2="548" y2="291.8" stroke="#8aaad8" stroke-width="1.45"/>
<line x1="538.5" y1="268.9" x2="551.1" y2="268.9" stroke="#1e1e1e" stroke-width="1.5"/>
<circle cx="544.8" cy="248.8" r="2.5" fill="#8aaad8"/>
<circle cx="540.8" cy="267.7" r="2.5" fill="#8aaad8"/>
<circle cx="549" cy="265" r="2.5" fill="#8aaad8"/>
<path d="M544.8 239.6L547.1 241.9L544.8 244.2L542.5 241.9Z" fill="none" stroke="#8aaad8" stroke-width="1.3" stroke-linejoin="round"/>
<path d="M544.8 255.4L547.1 257.7L544.8 260L542.5 257.7Z" fill="none" stroke="#8aaad8" stroke-width="1.3" stroke-linejoin="round"/>
<path d="M540.8 297.95L543.1 300.25L540.8 302.55L538.5 300.25Z" fill="none" stroke="#8aaad8" stroke-width="1.3" stroke-linejoin="round"/>
<path d="M549 297.95L551.3 300.25L549 302.55L546.7 300.25Z" fill="none" stroke="#8aaad8" stroke-width="1.3" stroke-linejoin="round"/>
<line x1="502.3" y1="300.25" x2="511" y2="300.25" stroke="#000000" stroke-width="1.3"/>
<circle cx="502.3" cy="300.25" r="2.5" fill="#000000"/>
<circle cx="511" cy="300.25" r="2.5" fill="#000000"/>
<path d="M510.1 212.2V207.3H541.3V212.2M525.7 207.3V212.2" fill="none" stroke="#000" stroke-width="1.3" stroke-linejoin="round"/>
<text x="517.7" y="209.8" font-size="10.5" text-anchor="middle" style="fill:#000">*</text>
<text x="533.4" y="209.8" font-size="10.5" text-anchor="middle" style="fill:#000">*</text>
<line x1="596" y1="233.7" x2="596" y2="285.3" stroke="#0000c8" stroke-width="1.45"/>
<line x1="592.8" y1="233.7" x2="599.2" y2="233.7" stroke="#0000c8" stroke-width="1.45"/>
<line x1="592.8" y1="285.3" x2="599.2" y2="285.3" stroke="#0000c8" stroke-width="1.45"/>
<line x1="589.7" y1="259.2" x2="602.3" y2="259.2" stroke="#1e1e1e" stroke-width="1.5"/>
<circle cx="600.1" cy="239.7" r="2.5" fill="#0000c8"/>
<circle cx="596" cy="243.9" r="2.5" fill="#0000c8"/>
<circle cx="600.1" cy="253" r="2.5" fill="#0000c8"/>
<circle cx="593.8" cy="300.25" r="2.5" fill="#0000c8"/>
<circle cx="598.3" cy="300.25" r="2.5" fill="#0000c8"/>
<path d="M591.4 236.1L593.7 238.4L591.4 240.7L589.1 238.4Z" fill="none" stroke="#0000c8" stroke-width="1.3" stroke-linejoin="round"/>
<path d="M591.4 248L593.7 250.3L591.4 252.6L589.1 250.3Z" fill="none" stroke="#0000c8" stroke-width="1.3" stroke-linejoin="round"/>
<path d="M596 248L598.3 250.3L596 252.6L593.7 250.3Z" fill="none" stroke="#0000c8" stroke-width="1.3" stroke-linejoin="round"/>
<line x1="615.1" y1="258.9" x2="615.1" y2="304.9" stroke="#8aaad8" stroke-width="1.45"/>
<line x1="611.9" y1="258.9" x2="618.3" y2="258.9" stroke="#8aaad8" stroke-width="1.45"/>
<line x1="611.9" y1="304.9" x2="618.3" y2="304.9" stroke="#8aaad8" stroke-width="1.45"/>
<line x1="608.8" y1="282" x2="621.4" y2="282" stroke="#1e1e1e" stroke-width="1.5"/>
<circle cx="615.1" cy="261.5" r="2.5" fill="#8aaad8"/>
<circle cx="610.7" cy="300.25" r="2.5" fill="#8aaad8"/>
<circle cx="614.2" cy="300.25" r="2.5" fill="#8aaad8"/>
<path d="M615.1 247.4L617.4 249.7L615.1 252L612.8 249.7Z" fill="none" stroke="#8aaad8" stroke-width="1.3" stroke-linejoin="round"/>
<path d="M618.8 297.95L621.1 300.25L618.8 302.55L616.5 300.25Z" fill="none" stroke="#8aaad8" stroke-width="1.3" stroke-linejoin="round"/>
<path d="M613.6 259L615.9 261.3L613.6 263.6L611.3 261.3Z" fill="none" stroke="#8aaad8" stroke-width="1.3" stroke-linejoin="round"/>
<path d="M614.5 297.95L616.8 300.25L614.5 302.55L612.2 300.25Z" fill="none" stroke="#8aaad8" stroke-width="1.3" stroke-linejoin="round"/>
<line x1="572.4" y1="300.25" x2="581" y2="300.25" stroke="#000000" stroke-width="1.3"/>
<circle cx="572.4" cy="300.25" r="2.5" fill="#000000"/>
<circle cx="581" cy="300.25" r="2.5" fill="#000000"/>
<circle cx="635.4" cy="253.8" r="2.5" fill="#000000"/>
<text transform="translate(661.1,257.2) scale(1.0,1)" font-size="11.5" text-anchor="start" font-weight="normal" letter-spacing="0.5">PBS</text>
<circle cx="635.4" cy="265.3" r="2.5" fill="#0000c8"/>
<text transform="translate(661.1,268.7) scale(1.0,1)" font-size="11.5" text-anchor="start" font-weight="normal" letter-spacing="0.5">IIa</text>
<circle cx="635.4" cy="276.6" r="2.5" fill="#8aaad8"/>
<text transform="translate(661.1,280) scale(1.0,1)" font-size="11.5" text-anchor="start" font-weight="normal" letter-spacing="0.5">IIb</text>
<line x1="71.2" y1="362.5" x2="71.2" y2="477.4" stroke="#1e1e1e" stroke-width="1.4"/>
<line x1="62.2" y1="363.2" x2="71.2" y2="363.2" stroke="#1e1e1e" stroke-width="1.4"/>
<text transform="translate(59.5,367.3) scale(1.0,1)" font-size="11.5" text-anchor="end" font-weight="normal">8</text>
<line x1="62.2" y1="385.9" x2="71.2" y2="385.9" stroke="#1e1e1e" stroke-width="1.4"/>
<text transform="translate(59.5,390) scale(1.0,1)" font-size="11.5" text-anchor="end" font-weight="normal">6</text>
<line x1="62.2" y1="408.6" x2="71.2" y2="408.6" stroke="#1e1e1e" stroke-width="1.4"/>
<text transform="translate(59.5,412.7) scale(1.0,1)" font-size="11.5" text-anchor="end" font-weight="normal">4</text>
<line x1="62.2" y1="431.3" x2="71.2" y2="431.3" stroke="#1e1e1e" stroke-width="1.4"/>
<text transform="translate(59.5,435.4) scale(1.0,1)" font-size="11.5" text-anchor="end" font-weight="normal">2</text>
<line x1="62.2" y1="454" x2="71.2" y2="454" stroke="#1e1e1e" stroke-width="1.4"/>
<text transform="translate(59.5,458.1) scale(1.0,1)" font-size="11.5" text-anchor="end" font-weight="normal">0</text>
<line x1="62.2" y1="476.7" x2="71.2" y2="476.7" stroke="#1e1e1e" stroke-width="1.4"/>
<text transform="translate(59.5,480.8) scale(1.0,1)" font-size="11.5" text-anchor="end" font-weight="normal">-2</text>
<line x1="70.5" y1="476.7" x2="275.5" y2="476.7" stroke="#1e1e1e" stroke-width="1.4"/>
<line x1="102.5" y1="476.7" x2="102.5" y2="486" stroke="#1e1e1e" stroke-width="1.4"/>
<text transform="translate(101,498.1) scale(0.965,1)" font-size="11.5" text-anchor="middle" font-weight="normal">O-swab</text>
<text transform="translate(102.5,510.7) scale(1.0,1)" font-size="11.5" text-anchor="middle" font-weight="normal">d4</text>
<line x1="172.6" y1="476.7" x2="172.6" y2="486" stroke="#1e1e1e" stroke-width="1.4"/>
<text transform="translate(171.1,498.1) scale(0.965,1)" font-size="11.5" text-anchor="middle" font-weight="normal">O-swab</text>
<text transform="translate(172.6,510.7) scale(1.0,1)" font-size="11.5" text-anchor="middle" font-weight="normal">final</text>
<line x1="243" y1="476.7" x2="243" y2="486" stroke="#1e1e1e" stroke-width="1.4"/>
<text transform="translate(241.5,498.1) scale(0.965,1)" font-size="11.5" text-anchor="middle" font-weight="normal">S-swab</text>
<text transform="translate(243,510.7) scale(1.0,1)" font-size="11.5" text-anchor="middle" font-weight="normal">final</text>
<line x1="71" y1="454.2" x2="272.12" y2="454.2" stroke="#000" stroke-width="2.8" stroke-linecap="round" stroke-dasharray="0 6.925"/>
<text transform="translate(38.5,421.7) rotate(-90) scale(1.083,1)" font-size="11.5" text-anchor="middle">Log10 PFU/ml</text>
<circle cx="98.9" cy="465.35" r="2.5" fill="#0000c8"/>
<circle cx="100.8" cy="465.35" r="2.5" fill="#0000c8"/>
<circle cx="102.7" cy="465.35" r="2.5" fill="#0000c8"/>
<circle cx="104.6" cy="465.35" r="2.5" fill="#0000c8"/>
<circle cx="106.5" cy="465.35" r="2.5" fill="#0000c8"/>
<line x1="121.6" y1="456.1" x2="121.6" y2="469.4" stroke="#8aaad8" stroke-width="1.45"/>
<line x1="118.4" y1="456.1" x2="124.8" y2="456.1" stroke="#8aaad8" stroke-width="1.45"/>
<line x1="118.4" y1="469.4" x2="124.8" y2="469.4" stroke="#8aaad8" stroke-width="1.45"/>
<line x1="115.3" y1="462.4" x2="127.9" y2="462.4" stroke="#1e1e1e" stroke-width="1.5"/>
<circle cx="117.8" cy="465.35" r="2.5" fill="#8aaad8"/>
<circle cx="119.72" cy="465.35" r="2.5" fill="#8aaad8"/>
<circle cx="121.65" cy="465.35" r="2.5" fill="#8aaad8"/>
<circle cx="123.58" cy="465.35" r="2.5" fill="#8aaad8"/>
<circle cx="125.5" cy="465.35" r="2.5" fill="#8aaad8"/>
<circle cx="121.6" cy="445.7" r="2.5" fill="#8aaad8"/>
<line x1="80" y1="465.35" x2="87.6" y2="465.35" stroke="#000000" stroke-width="1.3"/>
<circle cx="80" cy="465.35" r="2.5" fill="#000000"/>
<circle cx="87.6" cy="465.35" r="2.5" fill="#000000"/>
<line x1="172.7" y1="386.9" x2="172.7" y2="460" stroke="#0000c8" stroke-width="1.45"/>
<line x1="169.5" y1="386.9" x2="175.9" y2="386.9" stroke="#0000c8" stroke-width="1.45"/>
<line x1="169.5" y1="460" x2="175.9" y2="460" stroke="#0000c8" stroke-width="1.45"/>
<line x1="166.4" y1="423.7" x2="179" y2="423.7" stroke="#1e1e1e" stroke-width="1.5"/>
<circle cx="172.7" cy="398.8" r="2.5" fill="#0000c8"/>
<circle cx="172.7" cy="439.4" r="2.5" fill="#0000c8"/>
<circle cx="172.7" cy="446.1" r="2.5" fill="#0000c8"/>
<circle cx="169" cy="465.35" r="2.5" fill="#0000c8"/>
<path d="M172.7 367.9L175 370.2L172.7 372.5L170.4 370.2Z" fill="none" stroke="#0000c8" stroke-width="1.3" stroke-linejoin="round"/>
<path d="M172.7 382.2L175 384.5L172.7 386.8L170.4 384.5Z" fill="none" stroke="#0000c8" stroke-width="1.3" stroke-linejoin="round"/>
<path d="M172.7 420.4L175 422.7L172.7 425L170.4 422.7Z" fill="none" stroke="#0000c8" stroke-width="1.3" stroke-linejoin="round"/>
<line x1="192" y1="448.6" x2="192" y2="469.6" stroke="#8aaad8" stroke-width="1.45"/>
<line x1="188.8" y1="448.6" x2="195.2" y2="448.6" stroke="#8aaad8" stroke-width="1.45"/>
<line x1="188.8" y1="469.6" x2="195.2" y2="469.6" stroke="#8aaad8" stroke-width="1.45"/>
<line x1="185.7" y1="459" x2="198.3" y2="459" stroke="#1e1e1e" stroke-width="1.5"/>
<circle cx="188.7" cy="465.35" r="2.5" fill="#8aaad8"/>
<circle cx="190.5" cy="465.35" r="2.5" fill="#8aaad8"/>
<circle cx="192.3" cy="465.35" r="2.5" fill="#8aaad8"/>
<circle cx="194.1" cy="465.35" r="2.5" fill="#8aaad8"/>
<circle cx="195.9" cy="465.35" r="2.5" fill="#8aaad8"/>
<circle cx="192" cy="440" r="2.5" fill="#8aaad8"/>
<circle cx="192" cy="442" r="2.5" fill="#8aaad8"/>
<line x1="150.1" y1="465.35" x2="157.5" y2="465.35" stroke="#000000" stroke-width="1.3"/>
<circle cx="150.1" cy="465.35" r="2.5" fill="#000000"/>
<circle cx="157.5" cy="465.35" r="2.5" fill="#000000"/>
<path d="M172.7 364.5V360.4H191.4V364.5" fill="none" stroke="#000" stroke-width="1.3" stroke-linejoin="round"/>
<text x="182.2" y="363.3" font-size="10.5" text-anchor="middle" style="fill:#000">*</text>
<line x1="242.9" y1="408.8" x2="242.9" y2="433.4" stroke="#0000c8" stroke-width="1.45"/>
<line x1="239.7" y1="408.8" x2="246.1" y2="408.8" stroke="#0000c8" stroke-width="1.45"/>
<line x1="239.7" y1="433.4" x2="246.1" y2="433.4" stroke="#0000c8" stroke-width="1.45"/>
<line x1="236.6" y1="421.1" x2="249.2" y2="421.1" stroke="#1e1e1e" stroke-width="1.5"/>
<circle cx="242.9" cy="407.4" r="2.5" fill="#0000c8"/>
<circle cx="238.8" cy="429.3" r="2.5" fill="#0000c8"/>
<circle cx="247.4" cy="430.9" r="2.5" fill="#0000c8"/>
<circle cx="242.9" cy="437" r="2.5" fill="#0000c8"/>
<path d="M242.9 398.4L245.2 400.7L242.9 403L240.6 400.7Z" fill="none" stroke="#0000c8" stroke-width="1.3" stroke-linejoin="round"/>
<path d="M247.4 416.1L249.7 418.4L247.4 420.7L245.1 418.4Z" fill="none" stroke="#0000c8" stroke-width="1.3" stroke-linejoin="round"/>
<path d="M247.4 421.9L249.7 424.2L247.4 426.5L245.1 424.2Z" fill="none" stroke="#0000c8" stroke-width="1.3" stroke-linejoin="round"/>
<line x1="261.9" y1="418.4" x2="261.9" y2="446" stroke="#8aaad8" stroke-width="1.45"/>
<line x1="258.7" y1="418.4" x2="265.1" y2="418.4" stroke="#8aaad8" stroke-width="1.45"/>
<line x1="258.7" y1="446" x2="265.1" y2="446" stroke="#8aaad8" stroke-width="1.45"/>
<line x1="255.6" y1="431.3" x2="268.2" y2="431.3" stroke="#1e1e1e" stroke-width="1.5"/>
<circle cx="258.2" cy="423.5" r="2.5" fill="#8aaad8"/>
<circle cx="265.8" cy="423.5" r="2.5" fill="#8aaad8"/>
<circle cx="261.9" cy="423.5" r="2.5" fill="#8aaad8"/>
<circle cx="258.2" cy="429.3" r="2.5" fill="#8aaad8"/>
<circle cx="265.8" cy="429.3" r="2.5" fill="#8aaad8"/>
<circle cx="261.9" cy="433.8" r="2.5" fill="#8aaad8"/>
<circle cx="261.9" cy="465.35" r="2.5" fill="#8aaad8"/>
<line x1="219.4" y1="465.35" x2="227.6" y2="465.35" stroke="#000000" stroke-width="1.3"/>
<circle cx="219.4" cy="465.35" r="2.5" fill="#000000"/>
<circle cx="227.6" cy="465.35" r="2.5" fill="#000000"/>
<path d="M224.5 392.5V388H242.9V392.5" fill="none" stroke="#000" stroke-width="1.3" stroke-linejoin="round"/>
<text x="234.1" y="390.8" font-size="10.5" text-anchor="middle" style="fill:#000">*</text>
<circle cx="282.4" cy="418" r="2.5" fill="#000000"/>
<text transform="translate(307.6,421.4) scale(1.0,1)" font-size="11.5" text-anchor="start" font-weight="normal" letter-spacing="0.5">PBS</text>
<circle cx="282.4" cy="430.7" r="2.5" fill="#0000c8"/>
<text transform="translate(307.6,434.1) scale(1.0,1)" font-size="11.5" text-anchor="start" font-weight="normal" letter-spacing="0.5">IIa</text>
<circle cx="282.4" cy="443.2" r="2.5" fill="#8aaad8"/>
<text transform="translate(307.6,446.6) scale(1.0,1)" font-size="11.5" text-anchor="start" font-weight="normal" letter-spacing="0.5">IIb</text>
<line x1="423.6" y1="362.8" x2="423.6" y2="477.2" stroke="#1e1e1e" stroke-width="1.4"/>
<line x1="414.6" y1="363.5" x2="423.6" y2="363.5" stroke="#1e1e1e" stroke-width="1.4"/>
<text transform="translate(411.9,367.6) scale(1.0,1)" font-size="11.5" text-anchor="end" font-weight="normal">8</text>
<line x1="414.6" y1="386.1" x2="423.6" y2="386.1" stroke="#1e1e1e" stroke-width="1.4"/>
<text transform="translate(411.9,390.2) scale(1.0,1)" font-size="11.5" text-anchor="end" font-weight="normal">6</text>
<line x1="414.6" y1="408.7" x2="423.6" y2="408.7" stroke="#1e1e1e" stroke-width="1.4"/>
<text transform="translate(411.9,412.8) scale(1.0,1)" font-size="11.5" text-anchor="end" font-weight="normal">4</text>
<line x1="414.6" y1="431.3" x2="423.6" y2="431.3" stroke="#1e1e1e" stroke-width="1.4"/>
<text transform="translate(411.9,435.4) scale(1.0,1)" font-size="11.5" text-anchor="end" font-weight="normal">2</text>
<line x1="414.6" y1="453.9" x2="423.6" y2="453.9" stroke="#1e1e1e" stroke-width="1.4"/>
<text transform="translate(411.9,458) scale(1.0,1)" font-size="11.5" text-anchor="end" font-weight="normal">0</text>
<line x1="414.6" y1="476.5" x2="423.6" y2="476.5" stroke="#1e1e1e" stroke-width="1.4"/>
<text transform="translate(411.9,480.6) scale(1.0,1)" font-size="11.5" text-anchor="end" font-weight="normal">-2</text>
<line x1="422.9" y1="476.5" x2="628.3" y2="476.5" stroke="#1e1e1e" stroke-width="1.4"/>
<line x1="455.4" y1="476.5" x2="455.4" y2="485.8" stroke="#1e1e1e" stroke-width="1.4"/>
<text transform="translate(453.9,498.1) scale(0.965,1)" font-size="11.5" text-anchor="middle" font-weight="normal">O-swab</text>
<text transform="translate(455.4,510.7) scale(1.0,1)" font-size="11.5" text-anchor="middle" font-weight="normal">d4</text>
<line x1="525.6" y1="476.5" x2="525.6" y2="485.8" stroke="#1e1e1e" stroke-width="1.4"/>
<text transform="translate(524.1,498.1) scale(0.965,1)" font-size="11.5" text-anchor="middle" font-weight="normal">O-swab</text>
<text transform="translate(525.6,510.7) scale(1.0,1)" font-size="11.5" text-anchor="middle" font-weight="normal">final</text>
<line x1="595.8" y1="476.5" x2="595.8" y2="485.8" stroke="#1e1e1e" stroke-width="1.4"/>
<text transform="translate(594.3,498.1) scale(0.965,1)" font-size="11.5" text-anchor="middle" font-weight="normal">S-swab</text>
<text transform="translate(595.8,510.7) scale(1.0,1)" font-size="11.5" text-anchor="middle" font-weight="normal">final</text>
<line x1="423.4" y1="454.1" x2="624.52" y2="454.1" stroke="#000" stroke-width="2.8" stroke-linecap="round" stroke-dasharray="0 6.925"/>
<text transform="translate(390.7,421.7) rotate(-90) scale(1.083,1)" font-size="11.5" text-anchor="middle">Log10 PFU/ml</text>
<circle cx="451.7" cy="465.2" r="2.5" fill="#0000c8"/>
<circle cx="453.6" cy="465.2" r="2.5" fill="#0000c8"/>
<circle cx="455.5" cy="465.2" r="2.5" fill="#0000c8"/>
<circle cx="457.4" cy="465.2" r="2.5" fill="#0000c8"/>
<circle cx="459.3" cy="465.2" r="2.5" fill="#0000c8"/>
<circle cx="470.1" cy="465.2" r="2.5" fill="#8aaad8"/>
<circle cx="472" cy="465.2" r="2.5" fill="#8aaad8"/>
<circle cx="473.9" cy="465.2" r="2.5" fill="#8aaad8"/>
<circle cx="475.8" cy="465.2" r="2.5" fill="#8aaad8"/>
<circle cx="477.7" cy="465.2" r="2.5" fill="#8aaad8"/>
<line x1="433.3" y1="465.2" x2="439.8" y2="465.2" stroke="#000000" stroke-width="1.3"/>
<circle cx="433.3" cy="465.2" r="2.5" fill="#000000"/>
<circle cx="439.8" cy="465.2" r="2.5" fill="#000000"/>
<line x1="525.5" y1="388.4" x2="525.5" y2="394" stroke="#0000c8" stroke-width="1.45"/>
<line x1="522.3" y1="388.4" x2="528.7" y2="388.4" stroke="#0000c8" stroke-width="1.45"/>
<line x1="522.3" y1="394" x2="528.7" y2="394" stroke="#0000c8" stroke-width="1.45"/>
<line x1="519.2" y1="391.5" x2="531.8" y2="391.5" stroke="#1e1e1e" stroke-width="1.5"/>
<circle cx="525.5" cy="384.9" r="2.5" fill="#0000c8"/>
<circle cx="521.5" cy="392.9" r="2.5" fill="#0000c8"/>
<circle cx="524" cy="393.2" r="2.5" fill="#0000c8"/>
<circle cx="527" cy="392.9" r="2.5" fill="#0000c8"/>
<circle cx="529" cy="392.5" r="2.5" fill="#0000c8"/>
<path d="M529.9 392.7L532.2 395L529.9 397.3L527.6 395Z" fill="none" stroke="#0000c8" stroke-width="1.3" stroke-linejoin="round"/>
<line x1="544.8" y1="438.8" x2="544.8" y2="469.4" stroke="#8aaad8" stroke-width="1.45"/>
<line x1="541.6" y1="438.8" x2="548" y2="438.8" stroke="#8aaad8" stroke-width="1.45"/>
<line x1="541.6" y1="469.4" x2="548" y2="469.4" stroke="#8aaad8" stroke-width="1.45"/>
<line x1="538.5" y1="453.7" x2="551.1" y2="453.7" stroke="#1e1e1e" stroke-width="1.5"/>
<circle cx="540.4" cy="435.6" r="2.5" fill="#8aaad8"/>
<circle cx="543.9" cy="437" r="2.5" fill="#8aaad8"/>
<circle cx="544.8" cy="465.2" r="2.5" fill="#8aaad8"/>
<path d="M540.4 462.9L542.7 465.2L540.4 467.5L538.1 465.2Z" fill="none" stroke="#8aaad8" stroke-width="1.3" stroke-linejoin="round"/>
<path d="M548.8 462.9L551.1 465.2L548.8 467.5L546.5 465.2Z" fill="none" stroke="#8aaad8" stroke-width="1.3" stroke-linejoin="round"/>
<line x1="502.2" y1="465.2" x2="510.1" y2="465.2" stroke="#000000" stroke-width="1.3"/>
<circle cx="502.2" cy="465.2" r="2.5" fill="#000000"/>
<circle cx="510.1" cy="465.2" r="2.5" fill="#000000"/>
<path d="M510.1 379.8V375.8H541.3V379.8M525.5 375.8V379.8" fill="none" stroke="#000" stroke-width="1.3" stroke-linejoin="round"/>
<text x="517.3" y="378.3" font-size="10.5" text-anchor="middle" style="fill:#000">*</text>
<text x="533.4" y="378.3" font-size="10.5" text-anchor="middle" style="fill:#000">*</text>
<line x1="595.6" y1="391.9" x2="595.6" y2="406.1" stroke="#0000c8" stroke-width="1.45"/>
<line x1="592.4" y1="391.9" x2="598.8" y2="391.9" stroke="#0000c8" stroke-width="1.45"/>
<line x1="592.4" y1="406.1" x2="598.8" y2="406.1" stroke="#0000c8" stroke-width="1.45"/>
<line x1="589.3" y1="398.6" x2="601.9" y2="398.6" stroke="#1e1e1e" stroke-width="1.5"/>
<circle cx="591.4" cy="389.2" r="2.5" fill="#0000c8"/>
<circle cx="599.8" cy="392.8" r="2.5" fill="#0000c8"/>
<circle cx="599.8" cy="398.3" r="2.5" fill="#0000c8"/>
<circle cx="599.8" cy="403.4" r="2.5" fill="#0000c8"/>
<circle cx="591.4" cy="401.9" r="2.5" fill="#0000c8"/>
<path d="M591.4 394.2L593.7 396.5L591.4 398.8L589.1 396.5Z" fill="none" stroke="#0000c8" stroke-width="1.3" stroke-linejoin="round"/>
<path d="M595.6 408.2L597.9 410.5L595.6 412.8L593.3 410.5Z" fill="none" stroke="#0000c8" stroke-width="1.3" stroke-linejoin="round"/>
<line x1="614.7" y1="395.9" x2="614.7" y2="428" stroke="#8aaad8" stroke-width="1.45"/>
<line x1="611.5" y1="395.9" x2="617.9" y2="395.9" stroke="#8aaad8" stroke-width="1.45"/>
<line x1="611.5" y1="428" x2="617.9" y2="428" stroke="#8aaad8" stroke-width="1.45"/>
<line x1="608.4" y1="412.3" x2="621" y2="412.3" stroke="#1e1e1e" stroke-width="1.5"/>
<circle cx="618.8" cy="398.3" r="2.5" fill="#8aaad8"/>
<circle cx="610.7" cy="403.2" r="2.5" fill="#8aaad8"/>
<circle cx="614.7" cy="401.9" r="2.5" fill="#8aaad8"/>
<path d="M618.8 403.3L621.1 405.6L618.8 407.9L616.5 405.6Z" fill="none" stroke="#8aaad8" stroke-width="1.3" stroke-linejoin="round"/>
<path d="M614.7 424.6L617 426.9L614.7 429.2L612.4 426.9Z" fill="none" stroke="#8aaad8" stroke-width="1.3" stroke-linejoin="round"/>
<path d="M614.7 435.6L617 437.9L614.7 440.2L612.4 437.9Z" fill="none" stroke="#8aaad8" stroke-width="1.3" stroke-linejoin="round"/>
<line x1="572.4" y1="465.2" x2="581" y2="465.2" stroke="#000000" stroke-width="1.3"/>
<circle cx="572.4" cy="465.2" r="2.5" fill="#000000"/>
<circle cx="581" cy="465.2" r="2.5" fill="#000000"/>
<path d="M580.4 384.6V380.6H596.1V384.6" fill="none" stroke="#000" stroke-width="1.3" stroke-linejoin="round"/>
<text x="588.3" y="383.1" font-size="10.5" text-anchor="middle" style="fill:#000">*</text>
<circle cx="634.3" cy="421.1" r="2.5" fill="#000000"/>
<text transform="translate(660.6,424.5) scale(1.0,1)" font-size="11.5" text-anchor="start" font-weight="normal" letter-spacing="0.5">PBS</text>
<circle cx="634.3" cy="432.6" r="2.5" fill="#0000c8"/>
<text transform="translate(660.6,436) scale(1.0,1)" font-size="11.5" text-anchor="start" font-weight="normal" letter-spacing="0.5">IIa</text>
<circle cx="634.3" cy="444.8" r="2.5" fill="#8aaad8"/>
<text transform="translate(660.6,448.2) scale(1.0,1)" font-size="11.5" text-anchor="start" font-weight="normal" letter-spacing="0.5">IIb</text>
<line x1="71.2" y1="537.26" x2="71.2" y2="651.96" stroke="#1e1e1e" stroke-width="1.4"/>
<line x1="62.2" y1="537.96" x2="71.2" y2="537.96" stroke="#1e1e1e" stroke-width="1.4"/>
<text transform="translate(59.5,542.06) scale(1.0,1)" font-size="11.5" text-anchor="end" font-weight="normal">8</text>
<line x1="62.2" y1="560.62" x2="71.2" y2="560.62" stroke="#1e1e1e" stroke-width="1.4"/>
<text transform="translate(59.5,564.72) scale(1.0,1)" font-size="11.5" text-anchor="end" font-weight="normal">6</text>
<line x1="62.2" y1="583.28" x2="71.2" y2="583.28" stroke="#1e1e1e" stroke-width="1.4"/>
<text transform="translate(59.5,587.38) scale(1.0,1)" font-size="11.5" text-anchor="end" font-weight="normal">4</text>
<line x1="62.2" y1="605.94" x2="71.2" y2="605.94" stroke="#1e1e1e" stroke-width="1.4"/>
<text transform="translate(59.5,610.04) scale(1.0,1)" font-size="11.5" text-anchor="end" font-weight="normal">2</text>
<line x1="62.2" y1="628.6" x2="71.2" y2="628.6" stroke="#1e1e1e" stroke-width="1.4"/>
<text transform="translate(59.5,632.7) scale(1.0,1)" font-size="11.5" text-anchor="end" font-weight="normal">0</text>
<line x1="62.2" y1="651.26" x2="71.2" y2="651.26" stroke="#1e1e1e" stroke-width="1.4"/>
<text transform="translate(59.5,655.36) scale(1.0,1)" font-size="11.5" text-anchor="end" font-weight="normal">-2</text>
<line x1="70.5" y1="651.26" x2="275.5" y2="651.26" stroke="#1e1e1e" stroke-width="1.4"/>
<line x1="102.5" y1="651.26" x2="102.5" y2="660.56" stroke="#1e1e1e" stroke-width="1.4"/>
<text transform="translate(101,672.8) scale(0.965,1)" font-size="11.5" text-anchor="middle" font-weight="normal">O-swab</text>
<text transform="translate(102.5,685.4) scale(1.0,1)" font-size="11.5" text-anchor="middle" font-weight="normal">d4</text>
<line x1="172.6" y1="651.26" x2="172.6" y2="660.56" stroke="#1e1e1e" stroke-width="1.4"/>
<text transform="translate(171.1,672.8) scale(0.965,1)" font-size="11.5" text-anchor="middle" font-weight="normal">O-swab</text>
<text transform="translate(172.6,685.4) scale(1.0,1)" font-size="11.5" text-anchor="middle" font-weight="normal">final</text>
<line x1="243" y1="651.26" x2="243" y2="660.56" stroke="#1e1e1e" stroke-width="1.4"/>
<text transform="translate(241.5,672.8) scale(0.965,1)" font-size="11.5" text-anchor="middle" font-weight="normal">S-swab</text>
<text transform="translate(243,685.4) scale(1.0,1)" font-size="11.5" text-anchor="middle" font-weight="normal">final</text>
<line x1="71" y1="628.8" x2="272.12" y2="628.8" stroke="#000" stroke-width="2.8" stroke-linecap="round" stroke-dasharray="0 6.925"/>
<text transform="translate(25.2,596.8) rotate(-90) scale(1.045,1)" font-size="11.5" text-anchor="middle">DNA (Orthopox)</text>
<text transform="translate(38.5,597.5) rotate(-90) scale(1.083,1)" font-size="11.5" text-anchor="middle">equivalent log10 PFU/ml</text>
<circle cx="98.9" cy="639.93" r="2.5" fill="#0000c8"/>
<circle cx="100.7" cy="639.93" r="2.5" fill="#0000c8"/>
<circle cx="102.5" cy="639.93" r="2.5" fill="#0000c8"/>
<circle cx="104.3" cy="639.93" r="2.5" fill="#0000c8"/>
<circle cx="106.1" cy="639.93" r="2.5" fill="#0000c8"/>
<circle cx="118" cy="639.93" r="2.5" fill="#8aaad8"/>
<circle cx="119.78" cy="639.93" r="2.5" fill="#8aaad8"/>
<circle cx="121.55" cy="639.93" r="2.5" fill="#8aaad8"/>
<circle cx="123.32" cy="639.93" r="2.5" fill="#8aaad8"/>
<circle cx="125.1" cy="639.93" r="2.5" fill="#8aaad8"/>
<line x1="78.9" y1="639.93" x2="87" y2="639.93" stroke="#000000" stroke-width="1.3"/>
<circle cx="78.9" cy="639.93" r="2.5" fill="#000000"/>
<circle cx="87" cy="639.93" r="2.5" fill="#000000"/>
<line x1="173" y1="566.5" x2="173" y2="643.8" stroke="#0000c8" stroke-width="1.45"/>
<line x1="169.8" y1="566.5" x2="176.2" y2="566.5" stroke="#0000c8" stroke-width="1.45"/>
<line x1="169.8" y1="643.8" x2="176.2" y2="643.8" stroke="#0000c8" stroke-width="1.45"/>
<line x1="166.7" y1="605.5" x2="179.3" y2="605.5" stroke="#1e1e1e" stroke-width="1.5"/>
<circle cx="173" cy="575.7" r="2.5" fill="#0000c8"/>
<circle cx="168.3" cy="639.93" r="2.5" fill="#0000c8"/>
<circle cx="177.4" cy="639.93" r="2.5" fill="#0000c8"/>
<path d="M173 550.5L175.3 552.8L173 555.1L170.7 552.8Z" fill="none" stroke="#0000c8" stroke-width="1.3" stroke-linejoin="round"/>
<path d="M173 562.2L175.3 564.5L173 566.8L170.7 564.5Z" fill="none" stroke="#0000c8" stroke-width="1.3" stroke-linejoin="round"/>
<path d="M173 589.2L175.3 591.5L173 593.8L170.7 591.5Z" fill="none" stroke="#0000c8" stroke-width="1.3" stroke-linejoin="round"/>
<path d="M173 637.63L175.3 639.93L173 642.23L170.7 639.93Z" fill="none" stroke="#0000c8" stroke-width="1.3" stroke-linejoin="round"/>
<line x1="191.9" y1="606.4" x2="191.9" y2="644.9" stroke="#8aaad8" stroke-width="1.45"/>
<line x1="188.7" y1="606.4" x2="195.1" y2="606.4" stroke="#8aaad8" stroke-width="1.45"/>
<line x1="188.7" y1="644.9" x2="195.1" y2="644.9" stroke="#8aaad8" stroke-width="1.45"/>
<line x1="185.6" y1="625.7" x2="198.2" y2="625.7" stroke="#1e1e1e" stroke-width="1.5"/>
<circle cx="188.3" cy="639.93" r="2.5" fill="#8aaad8"/>
<circle cx="190.08" cy="639.93" r="2.5" fill="#8aaad8"/>
<circle cx="191.85" cy="639.93" r="2.5" fill="#8aaad8"/>
<circle cx="193.62" cy="639.93" r="2.5" fill="#8aaad8"/>
<circle cx="195.4" cy="639.93" r="2.5" fill="#8aaad8"/>
<circle cx="189.6" cy="597.9" r="2.5" fill="#8aaad8"/>
<circle cx="193.8" cy="602.1" r="2.5" fill="#8aaad8"/>
<path d="M191.9 604.1L194.2 606.4L191.9 608.7L189.6 606.4Z" fill="none" stroke="#8aaad8" stroke-width="1.3" stroke-linejoin="round"/>
<line x1="149.5" y1="639.93" x2="157.6" y2="639.93" stroke="#000000" stroke-width="1.3"/>
<circle cx="149.5" cy="639.93" r="2.5" fill="#000000"/>
<circle cx="157.6" cy="639.93" r="2.5" fill="#000000"/>
<line x1="243.2" y1="576.4" x2="243.2" y2="590.2" stroke="#0000c8" stroke-width="1.45"/>
<line x1="240" y1="576.4" x2="246.4" y2="576.4" stroke="#0000c8" stroke-width="1.45"/>
<line x1="240" y1="590.2" x2="246.4" y2="590.2" stroke="#0000c8" stroke-width="1.45"/>
<line x1="236.7" y1="584.6" x2="249.3" y2="584.6" stroke="#1e1e1e" stroke-width="1.5"/>
<circle cx="242.9" cy="573.9" r="2.5" fill="#0000c8"/>
<circle cx="247.4" cy="587.4" r="2.5" fill="#0000c8"/>
<circle cx="238.8" cy="592.8" r="2.5" fill="#0000c8"/>
<circle cx="246.9" cy="592.8" r="2.5" fill="#0000c8"/>
<path d="M247.4 568.8L249.7 571.1L247.4 573.4L245.1 571.1Z" fill="none" stroke="#0000c8" stroke-width="1.3" stroke-linejoin="round"/>
<path d="M238.8 580.3L241.1 582.6L238.8 584.9L236.5 582.6Z" fill="none" stroke="#0000c8" stroke-width="1.3" stroke-linejoin="round"/>
<path d="M243.4 585.9L245.7 588.2L243.4 590.5L241.1 588.2Z" fill="none" stroke="#0000c8" stroke-width="1.3" stroke-linejoin="round"/>
<line x1="262.1" y1="578.3" x2="262.1" y2="614.5" stroke="#8aaad8" stroke-width="1.45"/>
<line x1="258.9" y1="578.3" x2="265.3" y2="578.3" stroke="#8aaad8" stroke-width="1.45"/>
<line x1="258.9" y1="614.5" x2="265.3" y2="614.5" stroke="#8aaad8" stroke-width="1.45"/>
<line x1="255.8" y1="596.4" x2="268.4" y2="596.4" stroke="#1e1e1e" stroke-width="1.5"/>
<circle cx="258.2" cy="584.6" r="2.5" fill="#8aaad8"/>
<circle cx="266.3" cy="584.6" r="2.5" fill="#8aaad8"/>
<circle cx="262.2" cy="585.5" r="2.5" fill="#8aaad8"/>
<circle cx="258.2" cy="591.7" r="2.5" fill="#8aaad8"/>
<circle cx="266.3" cy="593.5" r="2.5" fill="#8aaad8"/>
<circle cx="262.2" cy="590.7" r="2.5" fill="#8aaad8"/>
<circle cx="262.2" cy="598.9" r="2.5" fill="#8aaad8"/>
<circle cx="262.1" cy="639.93" r="2.5" fill="#8aaad8"/>
<line x1="219.6" y1="639.93" x2="228.1" y2="639.93" stroke="#000000" stroke-width="1.3"/>
<circle cx="219.6" cy="639.93" r="2.5" fill="#000000"/>
<circle cx="228.1" cy="639.93" r="2.5" fill="#000000"/>
<path d="M227.7 566.6V561.3H243.6V566.6" fill="none" stroke="#000" stroke-width="1.3" stroke-linejoin="round"/>
<text x="235.5" y="564.3" font-size="10.5" text-anchor="middle" style="fill:#000">*</text>
<circle cx="280.4" cy="595.7" r="2.5" fill="#000000"/>
<text transform="translate(306.7,599.1) scale(1.0,1)" font-size="11.5" text-anchor="start" font-weight="normal" letter-spacing="0.5">PBS</text>
<circle cx="280.4" cy="608.1" r="2.5" fill="#0000c8"/>
<text transform="translate(306.7,611.5) scale(1.0,1)" font-size="11.5" text-anchor="start" font-weight="normal" letter-spacing="0.5">IIa</text>
<circle cx="280.4" cy="620.4" r="2.5" fill="#8aaad8"/>
<text transform="translate(306.7,623.8) scale(1.0,1)" font-size="11.5" text-anchor="start" font-weight="normal" letter-spacing="0.5">IIb</text>
<line x1="423.9" y1="537.5" x2="423.9" y2="651.9" stroke="#1e1e1e" stroke-width="1.4"/>
<line x1="414.9" y1="538.2" x2="423.9" y2="538.2" stroke="#1e1e1e" stroke-width="1.4"/>
<text transform="translate(412.2,542.3) scale(1.0,1)" font-size="11.5" text-anchor="end" font-weight="normal">8</text>
<line x1="414.9" y1="560.8" x2="423.9" y2="560.8" stroke="#1e1e1e" stroke-width="1.4"/>
<text transform="translate(412.2,564.9) scale(1.0,1)" font-size="11.5" text-anchor="end" font-weight="normal">6</text>
<line x1="414.9" y1="583.4" x2="423.9" y2="583.4" stroke="#1e1e1e" stroke-width="1.4"/>
<text transform="translate(412.2,587.5) scale(1.0,1)" font-size="11.5" text-anchor="end" font-weight="normal">4</text>
<line x1="414.9" y1="606" x2="423.9" y2="606" stroke="#1e1e1e" stroke-width="1.4"/>
<text transform="translate(412.2,610.1) scale(1.0,1)" font-size="11.5" text-anchor="end" font-weight="normal">2</text>
<line x1="414.9" y1="628.6" x2="423.9" y2="628.6" stroke="#1e1e1e" stroke-width="1.4"/>
<text transform="translate(412.2,632.7) scale(1.0,1)" font-size="11.5" text-anchor="end" font-weight="normal">0</text>
<line x1="414.9" y1="651.2" x2="423.9" y2="651.2" stroke="#1e1e1e" stroke-width="1.4"/>
<text transform="translate(412.2,655.3) scale(1.0,1)" font-size="11.5" text-anchor="end" font-weight="normal">-2</text>
<line x1="423.2" y1="651.2" x2="628.3" y2="651.2" stroke="#1e1e1e" stroke-width="1.4"/>
<line x1="455.4" y1="651.2" x2="455.4" y2="660.5" stroke="#1e1e1e" stroke-width="1.4"/>
<text transform="translate(453.9,672.8) scale(0.965,1)" font-size="11.5" text-anchor="middle" font-weight="normal">O-swab</text>
<text transform="translate(455.4,685.4) scale(1.0,1)" font-size="11.5" text-anchor="middle" font-weight="normal">d4</text>
<line x1="525.6" y1="651.2" x2="525.6" y2="660.5" stroke="#1e1e1e" stroke-width="1.4"/>
<text transform="translate(524.1,672.8) scale(0.965,1)" font-size="11.5" text-anchor="middle" font-weight="normal">O-swab</text>
<text transform="translate(525.6,685.4) scale(1.0,1)" font-size="11.5" text-anchor="middle" font-weight="normal">final</text>
<line x1="595.8" y1="651.2" x2="595.8" y2="660.5" stroke="#1e1e1e" stroke-width="1.4"/>
<text transform="translate(594.3,672.8) scale(0.965,1)" font-size="11.5" text-anchor="middle" font-weight="normal">S-swab</text>
<text transform="translate(595.8,685.4) scale(1.0,1)" font-size="11.5" text-anchor="middle" font-weight="normal">final</text>
<line x1="423.7" y1="628.8" x2="624.82" y2="628.8" stroke="#000" stroke-width="2.8" stroke-linecap="round" stroke-dasharray="0 6.925"/>
<text transform="translate(377.9,596.8) rotate(-90) scale(1.045,1)" font-size="11.5" text-anchor="middle">DNA (Orthopox)</text>
<text transform="translate(391.2,597.5) rotate(-90) scale(1.083,1)" font-size="11.5" text-anchor="middle">equivalent log10 PFU/ml</text>
<circle cx="451.6" cy="639.9" r="2.5" fill="#0000c8"/>
<circle cx="453.48" cy="639.9" r="2.5" fill="#0000c8"/>
<circle cx="455.35" cy="639.9" r="2.5" fill="#0000c8"/>
<circle cx="457.23" cy="639.9" r="2.5" fill="#0000c8"/>
<circle cx="459.1" cy="639.9" r="2.5" fill="#0000c8"/>
<line x1="474.3" y1="605.4" x2="474.3" y2="643.8" stroke="#8aaad8" stroke-width="1.45"/>
<line x1="471.1" y1="605.4" x2="477.5" y2="605.4" stroke="#8aaad8" stroke-width="1.45"/>
<line x1="471.1" y1="643.8" x2="477.5" y2="643.8" stroke="#8aaad8" stroke-width="1.45"/>
<line x1="468" y1="623.9" x2="480.6" y2="623.9" stroke="#1e1e1e" stroke-width="1.5"/>
<circle cx="470.9" cy="639.9" r="2.5" fill="#8aaad8"/>
<circle cx="472.6" cy="639.9" r="2.5" fill="#8aaad8"/>
<circle cx="474.3" cy="639.9" r="2.5" fill="#8aaad8"/>
<circle cx="476" cy="639.9" r="2.5" fill="#8aaad8"/>
<circle cx="477.7" cy="639.9" r="2.5" fill="#8aaad8"/>
<circle cx="476.6" cy="602.7" r="2.5" fill="#8aaad8"/>
<path d="M473.5 598L475.8 600.3L473.5 602.6L471.2 600.3Z" fill="none" stroke="#8aaad8" stroke-width="1.3" stroke-linejoin="round"/>
<path d="M474.3 607.7L476.6 610L474.3 612.3L472 610Z" fill="none" stroke="#8aaad8" stroke-width="1.3" stroke-linejoin="round"/>
<path d="M474.5 637.6L476.8 639.9L474.5 642.2L472.2 639.9Z" fill="none" stroke="#8aaad8" stroke-width="1.3" stroke-linejoin="round"/>
<line x1="432.7" y1="639.9" x2="440.2" y2="639.9" stroke="#000000" stroke-width="1.3"/>
<circle cx="432.7" cy="639.9" r="2.5" fill="#000000"/>
<circle cx="440.2" cy="639.9" r="2.5" fill="#000000"/>
<line x1="525.7" y1="561" x2="525.7" y2="569" stroke="#0000c8" stroke-width="1.45"/>
<line x1="522.5" y1="561" x2="528.9" y2="561" stroke="#0000c8" stroke-width="1.45"/>
<line x1="522.5" y1="569" x2="528.9" y2="569" stroke="#0000c8" stroke-width="1.45"/>
<line x1="519.3" y1="565.1" x2="531.9" y2="565.1" stroke="#1e1e1e" stroke-width="1.5"/>
<circle cx="530.2" cy="560.6" r="2.5" fill="#0000c8"/>
<circle cx="525.6" cy="561.2" r="2.5" fill="#0000c8"/>
<circle cx="528" cy="563" r="2.5" fill="#0000c8"/>
<circle cx="523" cy="564" r="2.5" fill="#0000c8"/>
<circle cx="526" cy="565.5" r="2.5" fill="#0000c8"/>
<circle cx="529.5" cy="565.5" r="2.5" fill="#0000c8"/>
<circle cx="521.6" cy="568.3" r="2.5" fill="#0000c8"/>
<circle cx="525.6" cy="568.5" r="2.5" fill="#0000c8"/>
<circle cx="529.9" cy="568.3" r="2.5" fill="#0000c8"/>
<line x1="544.8" y1="593.9" x2="544.8" y2="635.4" stroke="#8aaad8" stroke-width="1.45"/>
<line x1="541.6" y1="593.9" x2="548" y2="593.9" stroke="#8aaad8" stroke-width="1.45"/>
<line x1="541.6" y1="635.4" x2="548" y2="635.4" stroke="#8aaad8" stroke-width="1.45"/>
<line x1="538.5" y1="614.8" x2="551.1" y2="614.8" stroke="#1e1e1e" stroke-width="1.5"/>
<circle cx="544.8" cy="602.5" r="2.5" fill="#8aaad8"/>
<circle cx="540.4" cy="607.4" r="2.5" fill="#8aaad8"/>
<circle cx="549" cy="607.4" r="2.5" fill="#8aaad8"/>
<path d="M544.8 587.6L547.1 589.9L544.8 592.2L542.5 589.9Z" fill="none" stroke="#8aaad8" stroke-width="1.3" stroke-linejoin="round"/>
<path d="M540.4 637.6L542.7 639.9L540.4 642.2L538.1 639.9Z" fill="none" stroke="#8aaad8" stroke-width="1.3" stroke-linejoin="round"/>
<path d="M549 637.6L551.3 639.9L549 642.2L546.7 639.9Z" fill="none" stroke="#8aaad8" stroke-width="1.3" stroke-linejoin="round"/>
<line x1="502.3" y1="639.9" x2="511" y2="639.9" stroke="#000000" stroke-width="1.3"/>
<circle cx="502.3" cy="639.9" r="2.5" fill="#000000"/>
<circle cx="511" cy="639.9" r="2.5" fill="#000000"/>
<path d="M506.6 553.7V549.6H544.8V553.7M525.7 549.6V553.7" fill="none" stroke="#000" stroke-width="1.3" stroke-linejoin="round"/>
<text x="516.8" y="552.3" font-size="10.5" text-anchor="middle" style="fill:#000">*</text>
<text x="535.2" y="552.3" font-size="10.5" text-anchor="middle" style="fill:#000">*</text>
<line x1="595.9" y1="558.7" x2="595.9" y2="572" stroke="#0000c8" stroke-width="1.45"/>
<line x1="592.7" y1="558.7" x2="599.1" y2="558.7" stroke="#0000c8" stroke-width="1.45"/>
<line x1="592.7" y1="572" x2="599.1" y2="572" stroke="#0000c8" stroke-width="1.45"/>
<line x1="589.6" y1="565.1" x2="602.2" y2="565.1" stroke="#1e1e1e" stroke-width="1.5"/>
<circle cx="592" cy="563" r="2.5" fill="#0000c8"/>
<circle cx="596" cy="564" r="2.5" fill="#0000c8"/>
<circle cx="600" cy="566" r="2.5" fill="#0000c8"/>
<circle cx="593" cy="568" r="2.5" fill="#0000c8"/>
<circle cx="597.5" cy="569.5" r="2.5" fill="#0000c8"/>
<circle cx="592.5" cy="571" r="2.5" fill="#0000c8"/>
<circle cx="598" cy="571.5" r="2.5" fill="#0000c8"/>
<circle cx="594" cy="566" r="2.5" fill="#0000c8"/>
<path d="M595.9 550L598.2 552.3L595.9 554.6L593.6 552.3Z" fill="none" stroke="#0000c8" stroke-width="1.3" stroke-linejoin="round"/>
<path d="M594.3 572.5L596.6 574.8L594.3 577.1L592 574.8Z" fill="none" stroke="#0000c8" stroke-width="1.3" stroke-linejoin="round"/>
<line x1="615.1" y1="565.1" x2="615.1" y2="613.5" stroke="#8aaad8" stroke-width="1.45"/>
<line x1="611.9" y1="565.1" x2="618.3" y2="565.1" stroke="#8aaad8" stroke-width="1.45"/>
<line x1="611.9" y1="613.5" x2="618.3" y2="613.5" stroke="#8aaad8" stroke-width="1.45"/>
<line x1="608.8" y1="589.4" x2="621.4" y2="589.4" stroke="#1e1e1e" stroke-width="1.5"/>
<circle cx="615.1" cy="569.1" r="2.5" fill="#8aaad8"/>
<circle cx="610.7" cy="575.1" r="2.5" fill="#8aaad8"/>
<circle cx="618.9" cy="576.6" r="2.5" fill="#8aaad8"/>
<circle cx="615.1" cy="578.2" r="2.5" fill="#8aaad8"/>
<path d="M612.6 591.5L614.9 593.8L612.6 596.1L610.3 593.8Z" fill="none" stroke="#8aaad8" stroke-width="1.3" stroke-linejoin="round"/>
<path d="M617.5 591.5L619.8 593.8L617.5 596.1L615.2 593.8Z" fill="none" stroke="#8aaad8" stroke-width="1.3" stroke-linejoin="round"/>
<path d="M615.1 637.6L617.4 639.9L615.1 642.2L612.8 639.9Z" fill="none" stroke="#8aaad8" stroke-width="1.3" stroke-linejoin="round"/>
<line x1="572.4" y1="639.9" x2="581" y2="639.9" stroke="#000000" stroke-width="1.3"/>
<circle cx="572.4" cy="639.9" r="2.5" fill="#000000"/>
<circle cx="581" cy="639.9" r="2.5" fill="#000000"/>
<path d="M576.8 546.3V542.3H615.3V546.3M595.9 542.3V546.3" fill="none" stroke="#000" stroke-width="1.3" stroke-linejoin="round"/>
<text x="587.4" y="544.8" font-size="10.5" text-anchor="middle" style="fill:#000">*</text>
<text x="605.6" y="544.8" font-size="10.5" text-anchor="middle" style="fill:#000">*</text>
<circle cx="632.1" cy="593" r="2.5" fill="#000000"/>
<text transform="translate(657.8,596.4) scale(1.0,1)" font-size="11.5" text-anchor="start" font-weight="normal" letter-spacing="0.5">PBS</text>
<circle cx="632.1" cy="604.3" r="2.5" fill="#0000c8"/>
<text transform="translate(657.8,607.7) scale(1.0,1)" font-size="11.5" text-anchor="start" font-weight="normal" letter-spacing="0.5">IIa</text>
<circle cx="632.1" cy="616.8" r="2.5" fill="#8aaad8"/>
<text transform="translate(657.8,620.2) scale(1.0,1)" font-size="11.5" text-anchor="start" font-weight="normal" letter-spacing="0.5">IIb</text>
</svg>
</body></html>
